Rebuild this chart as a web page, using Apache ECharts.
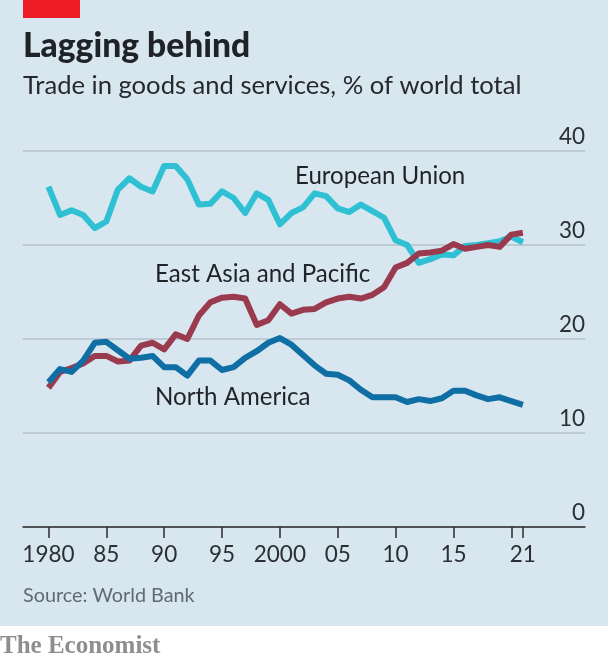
<!DOCTYPE html>
<html><head><meta charset="utf-8">
<style>html,body{margin:0;padding:0;background:#fff}#c{width:608px;height:662px}</style>
<script src="https://cdn.jsdelivr.net/npm/echarts@6/dist/echarts.min.js"></script>
</head><body><div id="c"></div>
<script>
const years = Array.from({length: 42}, (_, i) => 1980 + i);
const euValues = [36.2,33.2,33.7,33.2,31.8,32.5,35.9,37.1,36.2,35.7,38.4,38.4,37.0,34.3,34.4,35.7,35.0,33.4,35.5,34.8,32.2,33.4,34.0,35.5,35.2,33.9,33.5,34.3,33.6,32.9,30.5,30.0,28.1,28.5,29.0,28.9,29.9,30.0,30.2,30.4,30.9,30.3];
const eastAsiaValues = [14.8,16.5,16.9,17.4,18.2,18.2,17.6,17.7,19.3,19.6,18.9,20.5,20.0,22.5,23.9,24.4,24.5,24.3,21.5,22.0,23.7,22.7,23.1,23.2,23.9,24.3,24.5,24.3,24.7,25.5,27.6,28.1,29.1,29.2,29.4,30.1,29.6,29.8,30.0,29.8,31.1,31.3];
const northAmericaValues = [15.4,16.8,16.5,17.7,19.6,19.7,18.8,17.9,18.0,18.2,17.0,17.0,16.1,17.7,17.7,16.7,17.0,18.0,18.7,19.6,20.1,19.4,18.3,17.2,16.3,16.2,15.6,14.6,13.8,13.8,13.8,13.3,13.6,13.4,13.7,14.5,14.5,14.0,13.6,13.8,13.4,13.0];
const tickYears = [1980,1985,1990,1995,2000,2005,2010,2015,2020,2021];
const labelYears = [1980,1985,1990,1995,2000,2005,2010,2015,2021];
const tickLabels = ['1980','85','90','95','2000','05','10','15','21'];
const title = 'Lagging behind';
const subtitle = 'Trade in goods and services, % of world total';
const source = 'Source: World Bank';
const brand = 'The Economist';

const FONT = 'Lato, sans-serif';
const pair = (vals) => years.map((y, i) => [y, vals[i]]);
const line = (name, vals, color, z) => ({
  name, type: 'line', data: pair(vals), showSymbol: false, symbol: 'none', smooth: false, z,
  lineStyle: {color, width: 6, cap: 'butt', join: 'round'}, silent: true, animation: false
});
const txt = (x, y, text, size, fill, extra) => ({
  type: 'text', x, y, z: 10,
  style: Object.assign({text, fontFamily: FONT, fontSize: size, fill, textVerticalAlign: 'middle'}, extra || {})
});
const chart = echarts.init(document.getElementById('c'), null, {renderer: 'canvas'});
chart.setOption({
  backgroundColor: '#ffffff',
  animation: false,
  grid: {left: 23, right: 23, top: 151, bottom: 135},
  xAxis: {
    type: 'value', min: 1977.8, max: 2026.37,
    splitLine: {show: false},
    axisLine: {show: true, onZero: false, lineStyle: {color: '#2b2b2b', width: 1.5}},
    axisTick: {show: true, length: 11, customValues: tickYears, lineStyle: {color: '#2b2b2b', width: 1.5}},
    axisLabel: {
      customValues: labelYears, margin: 16, fontFamily: FONT, fontSize: 22.5, color: '#2b2f33',
      formatter: (v) => tickLabels[labelYears.indexOf(v)] || ''
    }
  },
  yAxis: {
    type: 'value', min: 0, max: 40, interval: 10, position: 'right',
    axisLine: {show: false}, axisTick: {show: false},
    splitLine: {show: true, lineStyle: {color: '#b4c1ca', width: 1.5}},
    axisLabel: {inside: true, margin: 0, verticalAlign: 'bottom', align: 'right', fontFamily: FONT, fontSize: 22.5, color: '#2b2f33', lineHeight: 28}
  },
  series: [
    line('European Union', euValues, '#2fc0d4', 3),
    line('East Asia and Pacific', eastAsiaValues, '#9a3a4e', 4),
    line('North America', northAmericaValues, '#0f6ea3', 5)
  ],
  graphic: [
    {type: 'rect', silent: true, z: -10, shape: {x: 0, y: 0, width: 608, height: 626}, style: {fill: '#d7e6ef'}},
    {type: 'rect', silent: true, z: 10, shape: {x: 23, y: 0, width: 57, height: 18}, style: {fill: '#ee1c25'}},
    txt(23, 46, title, 33.6, '#1f2226', {fontWeight: 900}),
    txt(23, 86, subtitle, 25.6, '#26292d'),
    txt(295, 176, 'European Union', 24.1, '#1f2226'),
    txt(155, 274, 'East Asia and Pacific', 24.1, '#1f2226'),
    txt(155, 397, 'North America', 24.1, '#1f2226'),
    txt(23, 596, source, 19.8, '#5f6a72'),
    txt(0, 647, brand, 25, '#8e8e8e', {fontFamily: '"Liberation Serif", serif', fontWeight: 'bold'})
  ]
});
</script></body></html>
